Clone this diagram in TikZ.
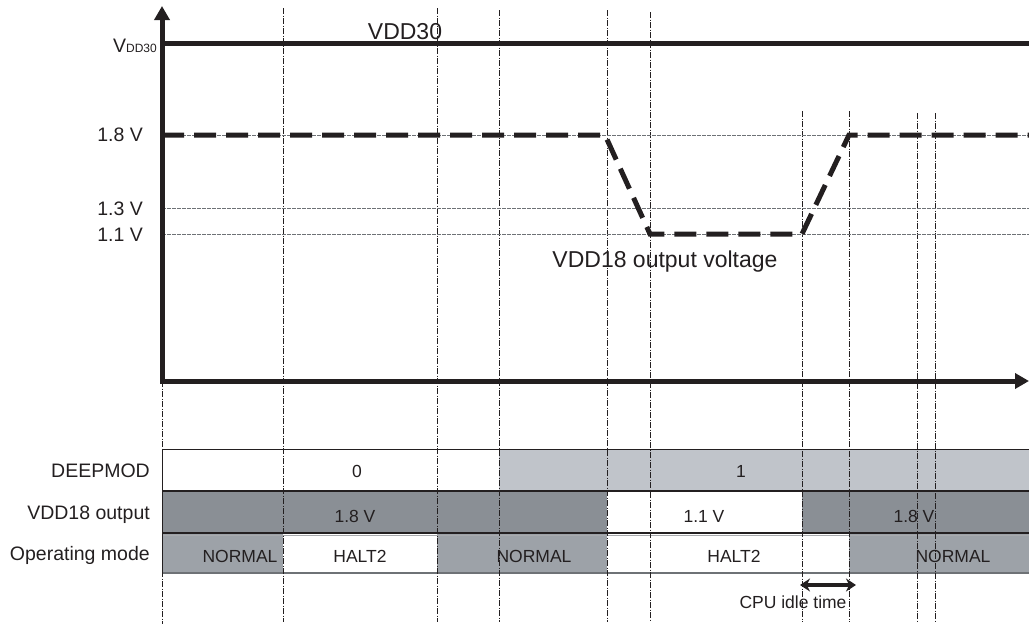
\documentclass[tikz,border=0pt]{standalone}
\usepackage{fontspec}
\setmainfont{Liberation Sans}
\usetikzlibrary{arrows.meta,positioning}
\definecolor{inkblack}{HTML}{231F20}
\definecolor{deepgray}{HTML}{C0C4CA}
\definecolor{vddgray}{HTML}{8A8F95}
\definecolor{modegray}{HTML}{9DA2A8}
\definecolor{rulegray}{HTML}{6E7276}

\begin{document}
\begin{tikzpicture}[x=1pt,y=-1pt,
  axis/.style={line width=5pt,draw=inkblack},
  rail/.style={line width=5pt,draw=inkblack},
  vddline/.style={line width=5pt,draw=inkblack,dash pattern=on 22pt off 10pt},
  guide/.style={line width=0.9pt,draw=inkblack,dash pattern=on 6pt off 1.5pt on 1pt off 1.5pt},
  level/.style={line width=0.8pt,draw=rulegray,dash pattern=on 4pt off 1pt},
  lbl/.style={text=inkblack,inner sep=0pt,anchor=base east,font=\fontsize{19.5}{22}\selectfont},
  cell/.style={text=inkblack,inner sep=0pt,anchor=base,font=\fontsize{17.5}{20}\selectfont},
  big/.style={text=inkblack,inner sep=0pt,anchor=base,font=\fontsize{23}{26}\selectfont},
  >={Triangle[length=14pt,width=15pt]}]
  \useasboundingbox (0,0) rectangle (1029,624);
  % table rows
  \fill[white] (162,449) rectangle (499,491);
  \fill[deepgray] (499,449) rectangle (1029,491);
  \fill[vddgray] (162,491) rectangle (607,533);
  \fill[white] (607,491) rectangle (802,533);
  \fill[vddgray] (802,491) rectangle (1029,533);
  \fill[modegray] (162,533) rectangle (283,573);
  \fill[white] (283,533) rectangle (437,573);
  \fill[modegray] (437,533) rectangle (607,573);
  \fill[white] (607,533) rectangle (849,573);
  \fill[modegray] (849,533) rectangle (1029,573);
  \draw[line width=1pt,inkblack] (1029,449) -- (162,449) -- (162,573);
  \draw[line width=2pt,inkblack] (162,491) -- (1029,491);
  \draw[line width=1.5pt,inkblack] (162,533) -- (1029,533);
  \draw[line width=1pt,rulegray!60] (162,535) -- (1029,535);
  \draw[line width=1.5pt,rulegray] (162,573) -- (1029,573);
  % timing guides
  \draw[guide] (162,381) -- (162,624);
  \foreach \x/\top in {283/8,437/8,499/10,607/10,650/12,802/111,849/111,917/113,935/113}
    \draw[guide] (\x,\top) -- (\x,622);
  \foreach \y in {135,208,234}
    \draw[level] (162,\y) -- (1029,\y);
  % axes and supply lines
  \coordinate (ytop) at (162,6);
  \coordinate (orig) at (162,381);
  \coordinate (xend) at (1029,381);
  \draw[axis,<->] (ytop) -- (orig) -- (xend);
  \draw[rail] (162,43) -- (1029,43);
  \draw[vddline] (162,135) -- (605,135) -- (650,234) -- (802,234) -- (849,135) -- (1029,135);
  \node[big] (vdd30) at (405,39) {VDD30};
  \node[big] (vdd18) at (665,267) {VDD18 output voltage};
  \node[lbl] (yvdd) at (157,52) {V{\fontsize{12}{14}\selectfont DD30}};
  \node[lbl] (y18) at (143,141) {1.8 V};
  \node[lbl] (y13) at (143,215) {1.3 V};
  \node[lbl] (y11) at (143,241) {1.1 V};
  % row labels
  \node[lbl] (rdeep) at (150,477) {DEEPMOD};
  \node[lbl] (rvdd) at (150,519) {VDD18 output};
  \node[lbl] (rmode) at (150,560) {Operating mode};
  % cell texts
  \node[cell] (d0) at (357,477) {0};
  \node[cell] (d1) at (741,477) {1};
  \node[cell] (v1) at (355,522) {1.8 V};
  \node[cell] (v2) at (704,522) {1.1 V};
  \node[cell] (v3) at (914,522) {1.8 V};
  \node[cell] (m1) at (240,562) {NORMAL};
  \node[cell] (m2) at (360,562) {HALT2};
  \node[cell] (m3) at (534,562) {NORMAL};
  \node[cell] (m4) at (734,562) {HALT2};
  \node[cell] (m5) at (953,562) {NORMAL};
  % idle time
  \coordinate (idleL) at (800,585);
  \coordinate (idleR) at (856,585);
  \draw[line width=3.2pt,inkblack,{Stealth[length=10pt,width=13pt]}-{Stealth[length=10pt,width=13pt]}] (idleL) -- (idleR);
  \node[cell] (idle) at (793,608) {CPU idle time};
\end{tikzpicture}
\end{document}
